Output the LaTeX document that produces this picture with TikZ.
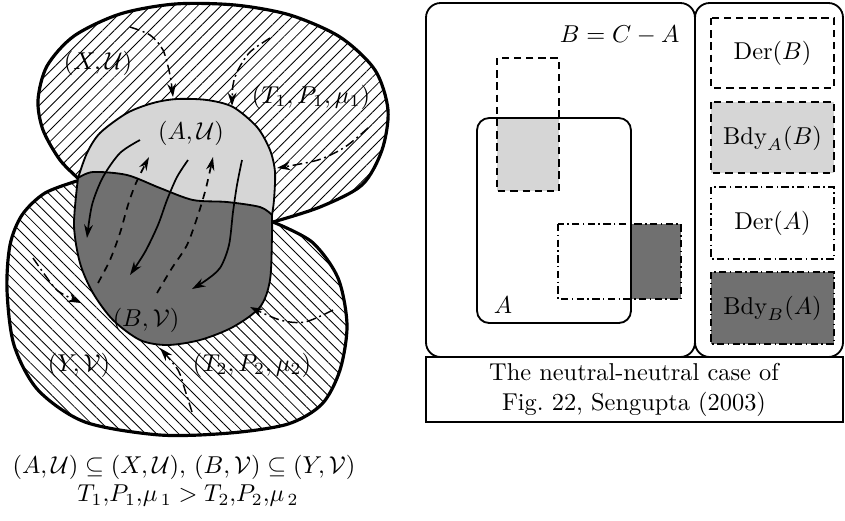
\documentclass[tikz,border=0pt]{standalone}
\usetikzlibrary{arrows.meta,patterns.meta}

\definecolor{lightfill}{gray}{0.84}
\definecolor{darkfill}{gray}{0.44}

\begin{document}
\begin{tikzpicture}[x=0.41pt,y=-0.41pt,
  blob/.style={line width=1.3pt},
  hatchA/.style={pattern={Lines[angle=45,distance=3.4pt,line width=0.35pt]}},
  hatchB/.style={pattern={Lines[angle=-45,distance=3.2pt,line width=0.35pt]}},
  region/.style={line width=0.75pt},
  flow/.style={line width=0.7pt,-{Stealth[length=5.5pt,width=3.6pt]}},
  backflow/.style={line width=0.7pt,dash pattern=on 3pt off 2.4pt,
    -{Stealth[open,length=5.5pt,width=3.4pt]}},
  influx/.style={line width=0.6pt,dash pattern=on 4pt off 1.5pt on 0.8pt off 1.5pt,
    -{Stealth[length=5.5pt,width=3.6pt]}},
  panel/.style={line width=0.75pt,rounded corners=6pt},
  cell/.style={line width=0.75pt,dash pattern=on 3pt off 2pt},
  dcell/.style={line width=0.75pt,dash pattern=on 3pt off 1.4pt on 0.6pt off 1.4pt},
  lbl/.style={inner sep=0pt}
]
\useasboundingbox (0,0) rectangle (845,520);

% ---------- left: two hatched systems ----------
% lower system (Y,V)
\def\lowerrim{(80,180) (45,193) (22,215) (10,245) (7,290) (14,345) (38,390)
  (85,422) (160,435) (230,433) (288,424) (322,404) (340,370) (347,325) (338,278)
  (312,242) (273,222)}
\fill[hatchB] plot[smooth] coordinates {\lowerrim} -- (180,200) -- cycle;
\draw[blob] plot[smooth] coordinates {\lowerrim};

% upper system (X,U)
\def\upperrim{(80,180) (60,160) (43,130) (38,100) (47,66) (74,36) (120,14)
  (175,4) (235,5) (290,15) (340,37) (375,70) (388,110) (382,150) (362,185)
  (320,207) (273,222)}
\fill[hatchA] plot[smooth] coordinates {\upperrim} -- (180,200) -- cycle;
\draw[blob] plot[smooth] coordinates {\upperrim};

% subsystem (A,U): light part
\def\domeA{(78,178) (87,153) (100,133) (127,113) (153,103) (177,99) (207,100)
  (233,107) (257,127) (270,150) (275,172) (274,200) (272,215)}
\def\waveAB{(78,178) (93,172) (127,175) (160,188) (193,200) (227,202) (260,207)
  (272,215)}
\def\bowlB{(272,215) (272,235) (270,280) (260,307) (233,327) (200,340) (167,345)
  (140,340) (113,320) (93,293) (80,263) (74,225) (78,178)}
\fill[lightfill] plot[smooth] coordinates {\domeA} -- (272,230) -- (180,250) -- cycle;
% subsystem (B,V): dark part
\fill[darkfill] plot[smooth] coordinates {\waveAB} -- plot[smooth] coordinates {\bowlB};
% outlines
\draw[region] plot[smooth] coordinates {\domeA};
\draw[region] plot[smooth] coordinates {\waveAB};
\draw[region] plot[smooth] coordinates {\bowlB};

% internal transfer A -> B
\draw[flow] plot[smooth] coordinates {(140,140) (120,153) (103,177) (92,205) (87,238)};
\draw[flow] plot[smooth] coordinates {(188,160) (177,177) (167,200) (158,225) (145,252) (130,275)};
\draw[flow] plot[smooth] coordinates {(242,160) (237,185) (233,212) (229,245) (220,268) (205,281) (192,289)};
% transfer B -> A
\draw[backflow] plot[smooth] coordinates {(98,283) (110,260) (120,233) (128,205) (136,183) (149,157)};
\draw[backflow] plot[smooth] coordinates {(157,293) (172,268) (187,245) (198,215) (206,188) (213,157)};

% exchange with the surroundings
\draw[influx] plot[smooth] coordinates {(130,27) (150,35) (163,50) (170,75) (173,97)};
\draw[influx] plot[smooth] coordinates {(270,38) (250,52) (238,70) (233,85) (232,106)};
\draw[influx] plot[smooth] coordinates {(368,128) (345,147) (318,160) (277,168)};
\draw[influx] plot[smooth] coordinates {(33,258) (45,275) (58,291) (81,303)};
\draw[influx] plot[smooth] coordinates {(333,310) (305,322) (280,320) (250,307)};
\draw[influx] plot[smooth] coordinates {(192,412) (185,390) (178,370) (160,348)};

% labels
\node[lbl] (XU) at (98,63) {$(X,\mathcal{U})$};
\node[lbl] (T1) at (311,97) {$(T_1,P_1,\mu_1)$};
\node[lbl] (AU) at (191,133) {$(A,\mathcal{U})$};
\node[lbl] (BV) at (146,320) {$(B,\mathcal{V})$};
\node[lbl] (YV) at (79,365) {$(Y,\mathcal{V})$};
\node[lbl] (T2) at (252,365) {$(T_2,P_2,\mu_2)$};

\node[lbl] (incl) at (184,467) {$(A,\mathcal{U})\subseteq(X,\mathcal{U})$, $(B,\mathcal{V})\subseteq(Y,\mathcal{V})$};
\node[lbl] (ineq) at (188,496) {$T_1{,}P_1{,}\mu_{\,1} > T_2{,}P_2{,}\mu_{\,2}$};

% ---------- right: set diagram ----------
\draw[panel] (426,3) rectangle (695,357);
\draw[panel] (695,3) rectangle (843,357);
\draw[line width=0.75pt] (426,357) rectangle (843,422);

% shaded boundary pieces
\fill[lightfill] (497,118) rectangle (559,191);
\fill[darkfill] (631,224) rectangle (681,299);
% set A
\draw[line width=0.75pt,rounded corners=5pt] (477,118) rectangle (631,323);
% derived-set frames
\draw[cell] (497,58) rectangle (559,191);
\draw[dcell] (558,224) rectangle (681,299);

\node[lbl,anchor=east] (BCA) at (680,35) {$B=C-A$};
\node[lbl] (Alab) at (503,305) {$A$};

% legend column
\draw[cell] (711,18) rectangle (834,88);
\node[lbl] (derB) at (772.5,53) {$\mathrm{Der}(B)$};
\filldraw[cell,fill=lightfill] (711,102) rectangle (834,173);
\node[lbl] (bdyAB) at (772.5,138) {$\mathrm{Bdy}_A(B)$};
\draw[dcell] (711,187) rectangle (834,259);
\node[lbl] (derA) at (772.5,223) {$\mathrm{Der}(A)$};
\filldraw[dcell,fill=darkfill] (711,272) rectangle (834,344);
\node[lbl] (bdyBA) at (772.5,308) {$\mathrm{Bdy}_B(A)$};

% caption
\node[lbl,align=center] (cap) at (634,390) {The neutral-neutral case of\\Fig.~22, Sengupta (2003)};
\end{tikzpicture}
\end{document}
